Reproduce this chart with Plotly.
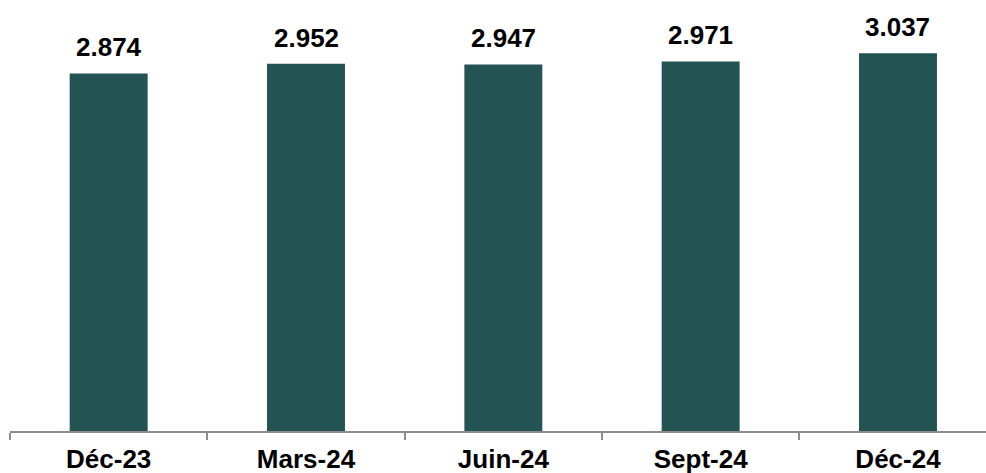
import plotly.graph_objects as go

categories = ["Déc-23", "Mars-24", "Juin-24", "Sept-24", "Déc-24"]
values = [2.874, 2.952, 2.947, 2.971, 3.037]
labels = ["2.874", "2.952", "2.947", "2.971", "3.037"]

bar_color = "#235352"
axis_color = "#8c8c8c"
font_family = "Liberation Sans, Arial, sans-serif"

fig = go.Figure(
    go.Bar(
        x=categories,
        y=values,
        marker=dict(color=bar_color, line=dict(width=0)),
        width=0.395,
        cliponaxis=False,
        hoverinfo="skip",
    )
)

for c, v, t in zip(categories, values, labels):
    fig.add_annotation(
        x=c, y=v, text=t, showarrow=False, yanchor="bottom", yshift=9,
        font=dict(family=font_family, size=26, color="#000000", weight="bold"),
    )

fig.update_layout(
    width=986,
    height=473,
    margin=dict(l=10, r=0, t=20, b=42, autoexpand=False),
    plot_bgcolor="white",
    paper_bgcolor="white",
    showlegend=False,
)
fig.update_xaxes(
    type="category",
    range=[-0.5, 4.446],
    automargin=False,
    showline=True,
    linecolor=axis_color,
    linewidth=2,
    ticks="outside",
    tickson="boundaries",
    ticklen=7,
    tickwidth=2,
    tickcolor=axis_color,
    tickfont=dict(family=font_family, size=26, color="#000000", weight="bold"),
    ticklabelstandoff=4,
    showgrid=False,
)
fig.update_yaxes(
    range=[0, 3.304],
    visible=False,
    automargin=False,
    showgrid=False,
    zeroline=False,
)

fig.write_html(
    "out.html",
    config={"displayModeBar": False},
    post_script="document.body.style.margin='0';document.body.style.overflow='hidden';",
)
